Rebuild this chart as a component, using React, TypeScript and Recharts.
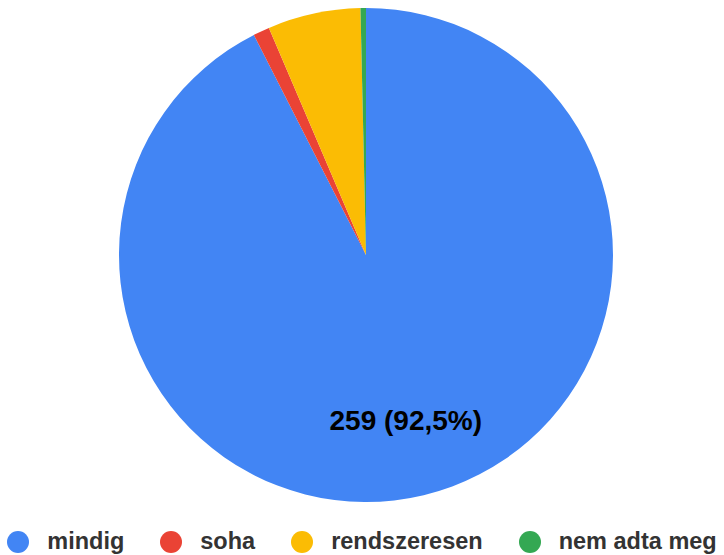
import React from "react";
import { PieChart, Pie, Cell, Legend } from "recharts";

const categories = ["mindig", "soha", "rendszeresen", "nem adta meg"];
const counts = [259, 3, 17, 1];
const colors = ["#4285f4", "#ea4335", "#fbbc04", "#34a853"];

const data = categories.map((name, i) => ({ name, value: counts[i] }));
const total = counts.reduce((a, b) => a + b, 0);

const RADIAN = Math.PI / 180;

// only the big slice gets a label, like the original
const renderLabel = (props: any) => {
  const { cx, cy, midAngle, outerRadius, value, index } = props;
  if (index !== 0) return null;
  const r = outerRadius * 0.69;
  const x = cx + r * Math.cos(-midAngle * RADIAN);
  const y = cy + r * Math.sin(-midAngle * RADIAN);
  const pct = ((value / total) * 100).toFixed(1).replace(".", ",");
  return (
    <text
      x={x}
      y={y}
      textAnchor="middle"
      dominantBaseline="central"
      fill="#000"
      fontSize={28}
      fontWeight="bold"
      fontFamily="'Liberation Sans', Arial, sans-serif"
    >
      {`${value} (${pct}%)`}
    </text>
  );
};

// legend keeps the data order (recharts would reorder it)
const renderLegend = () => (
  <div
    style={{
      display: "flex",
      justifyContent: "center",
      alignItems: "center",
      gap: 36,
      fontFamily: "'Liberation Sans', Arial, sans-serif",
      fontWeight: "bold",
      fontSize: 23.5,
      color: "#333",
    }}
  >
    {categories.map((name, i) => (
      <div key={name} style={{ display: "flex", alignItems: "center" }}>
        <span
          style={{
            width: 22,
            height: 22,
            borderRadius: "50%",
            background: colors[i],
            display: "inline-block",
            marginRight: 18,
          }}
        />
        <span>{name}</span>
      </div>
    ))}
  </div>
);

export default function App() {
  return (
    <div style={{ position: "absolute", left: 0, top: 0, background: "#fff" }}>
      <PieChart width={724} height={555} margin={{ top: 0, right: 0, bottom: 0, left: 0 }}>
        <Pie
          data={data}
          dataKey="value"
          nameKey="name"
          cx={366}
          cy={255}
          outerRadius={247}
          startAngle={90}
          endAngle={-270}
          stroke="none"
          label={renderLabel}
          labelLine={false}
          isAnimationActive={false}
        >
          {data.map((d, i) => (
            <Cell key={d.name} fill={colors[i]} />
          ))}
        </Pie>
        <Legend content={renderLegend} wrapperStyle={{ left: 0, top: 528, width: 724 }} />
      </PieChart>
    </div>
  );
}
